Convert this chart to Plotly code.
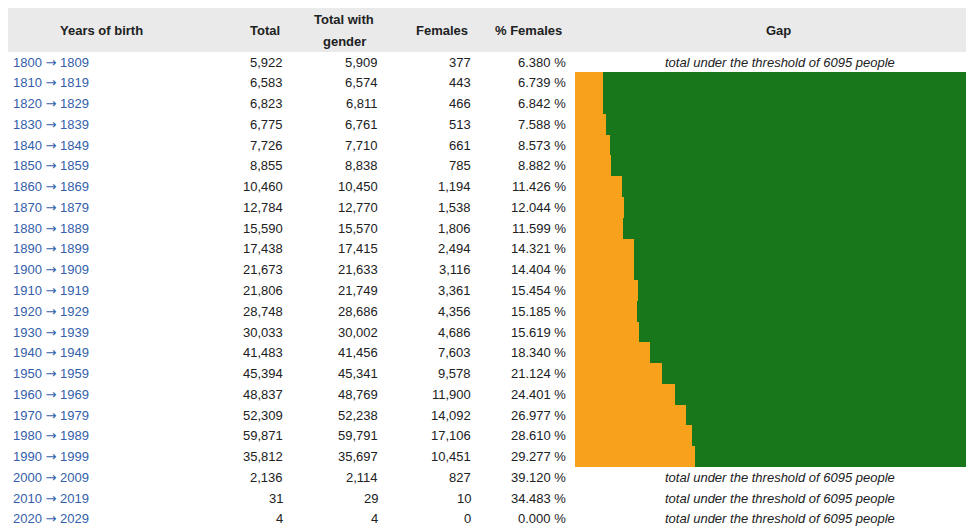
import plotly.graph_objects as go

decade_start = [1800, 1810, 1820, 1830, 1840, 1850, 1860, 1870, 1880, 1890, 1900,
                1910, 1920, 1930, 1940, 1950, 1960, 1970, 1980, 1990, 2000, 2010, 2020]
total = [5922, 6583, 6823, 6775, 7726, 8855, 10460, 12784, 15590, 17438, 21673,
         21806, 28748, 30033, 41483, 45394, 48837, 52309, 59871, 35812, 2136, 31, 4]
total_with_gender = [5909, 6574, 6811, 6761, 7710, 8838, 10450, 12770, 15570, 17415, 21633,
                     21749, 28686, 30002, 41456, 45341, 48769, 52238, 59791, 35697, 2114, 29, 4]
females = [377, 443, 466, 513, 661, 785, 1194, 1538, 1806, 2494, 3116,
           3361, 4356, 4686, 7603, 9578, 11900, 14092, 17106, 10451, 827, 10, 0]
pct_females = [6.380, 6.739, 6.842, 7.588, 8.573, 8.882, 11.426, 12.044, 11.599, 14.321, 14.404,
               15.454, 15.185, 15.619, 18.340, 21.124, 24.401, 26.977, 28.610, 29.277, 39.120, 34.483, 0.000]
threshold = 6095
headers = ["Years of birth", "Total", "Total with", "gender", "Females", "% Females", "Gap"]

# page geometry (the page body adds an 8px margin at top-left)
PAGE_W, PAGE_H, OFF = 974, 526, 8
FIG_W, FIG_H = PAGE_W - OFF, PAGE_H - OFF
ROW0_PX, ROW_H = 62.0, 20.77


def py(px):
    """page pixel y -> row units"""
    return (px - ROW0_PX) / ROW_H


FONT = "Liberation Sans, Arial, sans-serif"
TXT = "#202122"
LINK = "#3360aa"
ORANGE = "#f8a11c"
GREEN = "#18771a"
BAR_X0, BAR_FULL = 575, 410

rows = list(range(len(decade_start)))
bar_rows = [i for i in rows if total[i] >= threshold]
low_rows = [i for i in rows if total[i] < threshold]

fig = go.Figure()
fig.add_trace(go.Bar(
    x=[pct_females[i] for i in bar_rows], y=bar_rows, orientation="h",
    xaxis="x2", yaxis="y", marker=dict(color=ORANGE, line=dict(width=0)),
    width=1.0, hoverinfo="skip", showlegend=False))
fig.add_trace(go.Bar(
    x=[100 - pct_females[i] for i in bar_rows], y=bar_rows, orientation="h",
    xaxis="x2", yaxis="y", marker=dict(color=GREEN, line=dict(width=0)),
    width=1.0, hoverinfo="skip", showlegend=False))

ann = []


def A(x, y, text, anchor, color=TXT, bold=False, italic=False, size=13):
    t = text
    if bold:
        t = "<b>" + t + "</b>"
    if italic:
        t = "<i>" + t + "</i>"
    ann.append(dict(x=x, y=y, xref="x", yref="y", text=t, showarrow=False,
                    xanchor=anchor, yanchor="middle",
                    font=dict(family=FONT, size=size, color=color)))


hy = py(30)
A(101, hy, headers[0], "center", bold=True)
A(265, hy, headers[1], "center", bold=True)
A(344, py(19), headers[2], "center", bold=True)
A(344, py(41), headers[3], "center", bold=True)
A(442, hy, headers[4], "center", bold=True)
A(528, hy, headers[5], "center", bold=True)
A(778, hy, headers[6], "center", bold=True)

ARROW = '<span style="font-family:DejaVu Sans">→</span>'
for i in rows:
    A(11, i, f"{decade_start[i]} {ARROW} {decade_start[i] + 9}", "left", color=LINK)
    A(285, i, f"{total[i]:,}", "right")
    A(380, i, f"{total_with_gender[i]:,}", "right")
    A(473, i, f"{females[i]:,}", "right")
    A(568, i, f"{pct_females[i]:.3f} %", "right")
for i in low_rows:
    A(780, i, f"total under the threshold of {threshold} people", "center", italic=True)

fig.update_layout(
    width=FIG_W, height=FIG_H, margin=dict(l=0, r=0, t=0, b=0),
    paper_bgcolor="white", plot_bgcolor="rgba(0,0,0,0)",
    barmode="stack", bargap=0,
    xaxis=dict(range=[OFF, PAGE_W], domain=[0, 1], visible=False, fixedrange=True),
    xaxis2=dict(range=[0, (PAGE_W - BAR_X0) / BAR_FULL * 100],
                domain=[(BAR_X0 - OFF) / FIG_W, 1],
                anchor="y", visible=False, fixedrange=True),
    yaxis=dict(range=[py(PAGE_H), py(OFF)], visible=False, fixedrange=True),
    annotations=ann,
    shapes=[dict(type="rect", xref="x", yref="y", x0=OFF, x1=PAGE_W,
                 y0=py(OFF), y1=py(52),
                 fillcolor="#eaeaea", line=dict(width=0), layer="below")],
)
fig.write_html("out.html", config={"displayModeBar": False})
